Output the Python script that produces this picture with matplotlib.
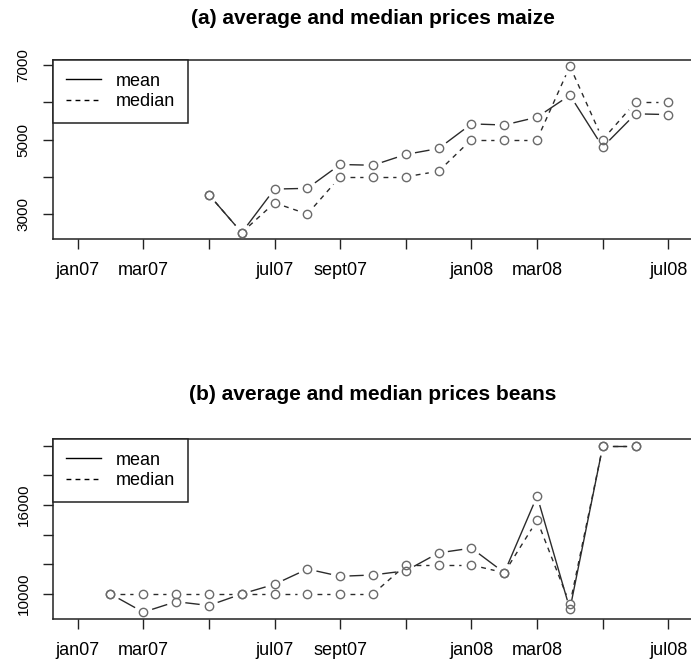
import numpy as np
import matplotlib
matplotlib.use('Agg')
import matplotlib.pyplot as plt
from matplotlib.lines import Line2D

plt.rcParams['font.family'] = ['Liberation Sans', 'DejaVu Sans']

# months jan07 .. jul08
months = ['jan07', 'feb07', 'mar07', 'apr07', 'may07', 'jun07', 'jul07', 'aug07',
          'sept07', 'oct07', 'nov07', 'dec07', 'jan08', 'feb08', 'mar08', 'apr08',
          'may08', 'jun08', 'jul08']
tick_labels = ['jan07', 'mar07', '', 'jul07', 'sept07', '', 'jan08', 'mar08', '', 'jul08']

nan = np.nan
maize_mean = [nan, nan, nan, nan, 3520, 2500, 3670, 3690, 4330, 4310, 4600, 4760,
              5420, 5390, 5600, 6190, 4800, 5690, 5670]
maize_median = [nan, nan, nan, nan, 3520, 2500, 3300, 3000, 4000, 4000, 4000, 4150,
                5000, 5000, 5000, 6970, 5000, 6000, 6000]

beans_mean = [nan, 10000, 8770, 9480, 9220, 10000, 10650, 11680, 11190, 11280, 11560,
              12770, 13090, 11430, 16600, 8970, 19950, 19950, nan]
beans_median = [nan, 10000, 10000, 10000, 10000, 10000, 10000, 10000, 10000, 10000, 11950,
                11950, 11950, 11430, 14970, 9310, 19950, 19950, nan]

line_col = '#2b2b2b'
pt_col = '#6a6a6a'
dash = (0, (3.5, 3.5))

x = np.arange(1, len(months) + 1)

fig = plt.figure(figsize=(6.91, 6.65), dpi=100)
ax_a = fig.add_axes([53 / 691, 1 - 239 / 665, 640 / 691, 179 / 665])
ax_b = fig.add_axes([53 / 691, 1 - 619 / 665, 640 / 691, 180 / 665])


# R style type="b": points joined by lines that stop short of the points
# (limits must already be set, the gap is worked out in pixels)
def draw_series(ax, y, ls, gap=10):
    pts = np.array([(xi, yi) for xi, yi in zip(x, y) if not np.isnan(yi)])
    disp = ax.transData.transform(pts)
    inv = ax.transData.inverted()
    for d0, d1 in zip(disp[:-1], disp[1:]):
        u = (d1 - d0) / np.hypot(*(d1 - d0))
        seg = inv.transform([d0 + u * gap, d1 - u * gap])
        ax.plot(seg[:, 0], seg[:, 1], color=line_col, lw=1.0, linestyle=ls)
    ax.plot(x, y, linestyle='none', marker='o', ms=6, mfc='none',
            mec=pt_col, mew=1.0, zorder=3)


def panel(ax, title, mean, median, ylim, yticks, ylabels, title_pad):
    ax.set_xlim(0.25, 19.75)
    ax.set_ylim(ylim)
    draw_series(ax, mean, '-')
    draw_series(ax, median, dash)
    ax.set_xticks(x[::2])
    ax.set_xticklabels(tick_labels)
    ax.set_yticks(yticks)
    ax.set_yticklabels(ylabels, rotation=90, va='center')
    ax.tick_params(direction='out', length=7.2, width=1.0, color='#222222')
    ax.tick_params(axis='x', labelsize=13, pad=9.5)
    ax.tick_params(axis='y', labelsize=11, pad=9)
    for s in ax.spines.values():
        s.set_linewidth(1.1)
        s.set_color('#222222')
    handles = [Line2D([], [], color='black', lw=1.0, ls='-'),
               Line2D([], [], color='black', lw=1.0, ls=(0, (3.5, 3)))]
    leg = ax.legend(handles, ['mean', 'median'], loc='upper left',
                    bbox_to_anchor=(0, 1), borderaxespad=0, fontsize=13,
                    fancybox=False, edgecolor='#222222', framealpha=1,
                    handlelength=1.95, handletextpad=0.85, borderpad=0.7,
                    labelspacing=0.2)
    leg.get_frame().set_linewidth(1.1)
    ax.set_title(title, fontsize=15, fontweight='bold', pad=title_pad)


panel(ax_a, '(a) average and median prices maize', maize_mean, maize_median,
      (2330, 7135), [3000, 4000, 5000, 6000, 7000],
      ['3000', '', '5000', '', '7000'], 26)
panel(ax_b, '(b) average and median prices beans', beans_mean, beans_median,
      (8310, 20450), [10000, 12000, 14000, 16000, 18000, 20000],
      ['10000', '', '', '16000', '', ''], 28)

fig.savefig('out.png', dpi=100)
